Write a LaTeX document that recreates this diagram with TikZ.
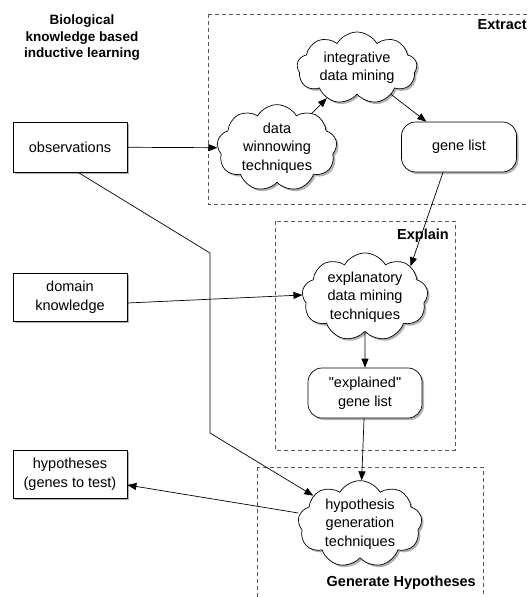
\documentclass[tikz,border=0pt]{standalone}
\usepackage{fontspec}
\setmainfont{Liberation Sans}
\usetikzlibrary{shapes.symbols,shadows,arrows.meta}
\begin{document}
\begin{tikzpicture}[x=1pt,y=-1pt,
 every node/.style={font=\fontsize{14.5}{18.5}\selectfont, align=center, inner sep=0pt},
 sh/.style={drop shadow={shadow xshift=2pt,shadow yshift=-2pt,opacity=0.3,fill=black}},
 cloudnode/.style={cloud, cloud puffs=9, cloud puff arc=120, cloud ignores aspect, draw, fill=white, sh, line width=0.7pt},
 boxnode/.style={rectangle, draw, fill=white, sh, line width=0.7pt, minimum width=114pt},
 roundnode/.style={rectangle, rounded corners=14pt, draw, fill=white, sh, line width=0.7pt},
 region/.style={draw=black!65, dash pattern=on 4pt off 3pt, line width=0.7pt},
 lbl/.style={font=\bfseries\fontsize{14.5}{17}\selectfont, anchor=east},
 ttl/.style={font=\bfseries\fontsize{13.5}{16.5}\selectfont},
 arr/.style={-{Triangle[length=9pt,width=7pt]}, line width=0.7pt}
]
\clip (0,0) rectangle (528,597);
\fill[white] (0,0) rectangle (528,597);

% regions
\draw[region] (208,14) rectangle (545,204);
\draw[region] (275,221) rectangle (455,450);
\draw[region] (257,467) rectangle (483,610);
\node[lbl] (lext) at (527,25) {Extract};
\node[lbl] (lexp) at (449,236) {Explain};
\node[lbl] (lgen) at (476,583) {Generate Hypotheses};

% title
\node[ttl] (title) at (82,38) {Biological\\knowledge based\\inductive learning};

% nodes
\node[cloudnode, minimum width=120pt, minimum height=72pt] (idm) at (357,68) {integrative\\data mining};
\node[cloudnode, minimum width=120pt, minimum height=74pt] (dw) at (277,148) {data\\winnowing\\techniques};
\node[roundnode, minimum width=115pt, minimum height=50pt] (gl) at (459,147) {gene list};
\node[boxnode, minimum height=50pt] (obs) at (70,147) {observations};
\node[boxnode, minimum height=48pt] (dk) at (70,297) {domain\\knowledge};
\node[cloudnode, minimum width=126pt, minimum height=70pt] (ex) at (365,297) {explanatory\\data mining\\techniques};
\node[roundnode, minimum width=114pt, minimum height=50pt] (eg) at (365,393) {\textquotedbl explained\textquotedbl\\gene list};
\node[cloudnode, minimum width=124pt, minimum height=72pt] (hg) at (360,524) {hypothesis\\generation\\techniques};
\node[boxnode, minimum height=48pt] (hy) at (70,474) {hypotheses\\(genes to test)};

\coordinate (b1) at (210,253);
\coordinate (b2) at (210,433);

% connectors
\draw[arr] (obs) -- (dw);
\draw[arr] (dw) -- (idm);
\draw[arr] (idm) -- (gl);
\draw[arr] ([xshift=-16pt]gl.south) -- (ex.34);
\draw[arr] ([yshift=-6pt]dk.east) -- ([yshift=2pt]ex.west);
\draw[arr] (ex) -- (eg);
\draw[arr] (eg) -- (hg);
\draw[arr] ([xshift=8pt]obs.south) -- (b1) -- (b2) -- (hg);
\draw[arr] ([yshift=11pt]hg.west) -- ([yshift=-11pt]hy.east);
\end{tikzpicture}
\end{document}
